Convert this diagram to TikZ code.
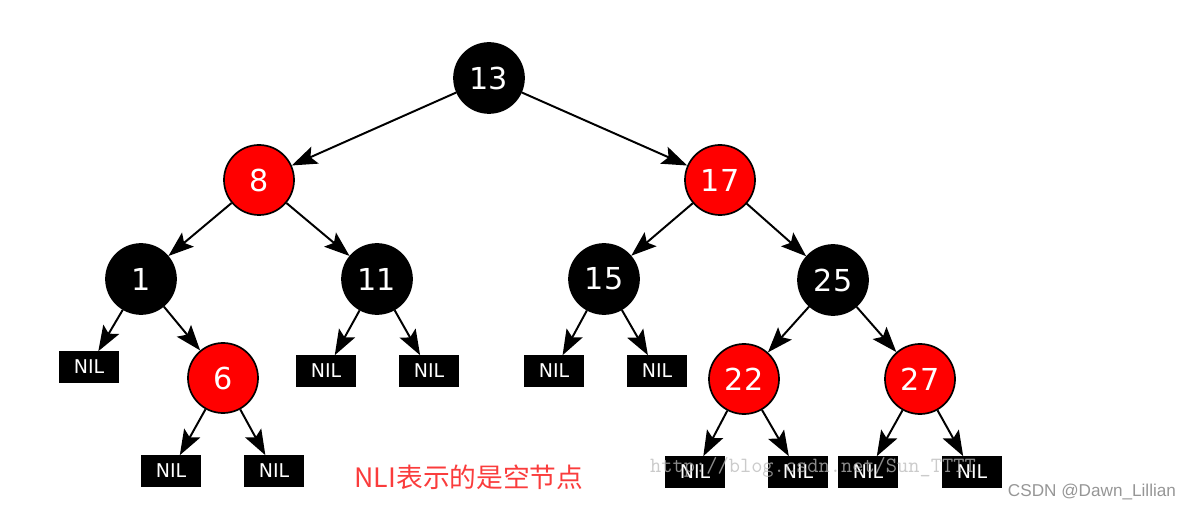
\documentclass[tikz,border=0pt]{standalone}
\usepackage{fontspec}
\setsansfont{DejaVu Sans}
\newfontfamily\cjkfont{Noto Sans CJK SC}
\newfontfamily\markfont{Liberation Sans}
\usetikzlibrary{arrows.meta}
\definecolor{nodered}{RGB}{255,0,0}
\definecolor{notered}{RGB}{250,60,60}
\definecolor{markgray}{RGB}{150,150,150}
\definecolor{urlgray}{RGB}{185,185,185}

\tikzset{
  blacknode/.style={circle,fill=black,draw=black,line width=1.2pt,minimum size=1.75cm,inner sep=0pt,
    text=white,font=\sffamily\fontsize{21.5}{22}\selectfont},
  rednode/.style={blacknode,fill=nodered},
  nilbox/.style={rectangle,fill=black,minimum width=1.5cm,minimum height=0.775cm,inner sep=0pt,
    text=white,font=\sffamily\fontsize{13.5}{14}\selectfont},
  link/.style={line width=1.4pt,-{Stealth[length=18pt,width=13pt,inset=3.5pt]}}
}

\begin{document}
\begin{tikzpicture}[x=0.025cm,y=-0.025cm]
\useasboundingbox (0,0) rectangle (1184,510);

% tree nodes
\node[blacknode] (n13) at (489,78) {13};
\node[rednode] (n8) at (259,180) {8};
\node[rednode] (n17) at (720,180) {17};
\node[blacknode] (n1) at (141,279) {1};
\node[blacknode] (n11) at (377,279) {11};
\node[blacknode] (n15) at (604,279) {15};
\node[blacknode] (n25) at (833,280) {25};
\node[rednode] (n6) at (223,378) {6};
\node[rednode] (n22) at (744,379) {22};
\node[rednode] (n27) at (920,379) {27};

% leaves
\node[nilbox] (nil1) at (89,367) {NIL};
\node[nilbox] (nil6a) at (171,471) {NIL};
\node[nilbox] (nil6b) at (274,471) {NIL};
\node[nilbox] (nil11a) at (326,371) {NIL};
\node[nilbox] (nil11b) at (429,371) {NIL};
\node[nilbox] (nil15a) at (554,371) {NIL};
\node[nilbox] (nil15b) at (657,371) {NIL};
\node[nilbox] (nil22a) at (695,472) {NIL};
\node[nilbox] (nil22b) at (798,472) {NIL};
\node[nilbox] (nil27a) at (868,472) {NIL};
\node[nilbox] (nil27b) at (972,472) {NIL};

\draw[link] (n13) -- (n8);
\draw[link] (n13) -- (n17);
\draw[link] (n8) -- (n1);
\draw[link] (n8) -- (n11);
\draw[link] (n17) -- (n15);
\draw[link] (n17) -- (n25);
\draw[link] (n1) -- (nil1);
\draw[link] (n1) -- (n6);
\draw[link] (n6) -- (nil6a);
\draw[link] (n6) -- (nil6b);
\draw[link] (n11) -- (nil11a);
\draw[link] (n11) -- (nil11b);
\draw[link] (n15) -- (nil15a);
\draw[link] (n15) -- (nil15b);
\draw[link] (n25) -- (n22);
\draw[link] (n25) -- (n27);
\draw[link] (n22) -- (nil22a);
\draw[link] (n22) -- (nil22b);
\draw[link] (n27) -- (nil27a);
\draw[link] (n27) -- (nil27b);

\node[text=notered,font=\cjkfont\fontsize{19}{20}\selectfont] (note) at (469,477) {NLI表示的是空节点};
\node[text=urlgray,opacity=0.75,font=\ttfamily\fontsize{15.5}{16}\selectfont] (url) at (813,467) {http://blog.csdn.net/Sun\_TTTT};
\node[text=markgray,font=\markfont\fontsize{12.2}{13}\selectfont] (mark) at (1092,492) {CSDN @Dawn\_Lillian};
\end{tikzpicture}
\end{document}
